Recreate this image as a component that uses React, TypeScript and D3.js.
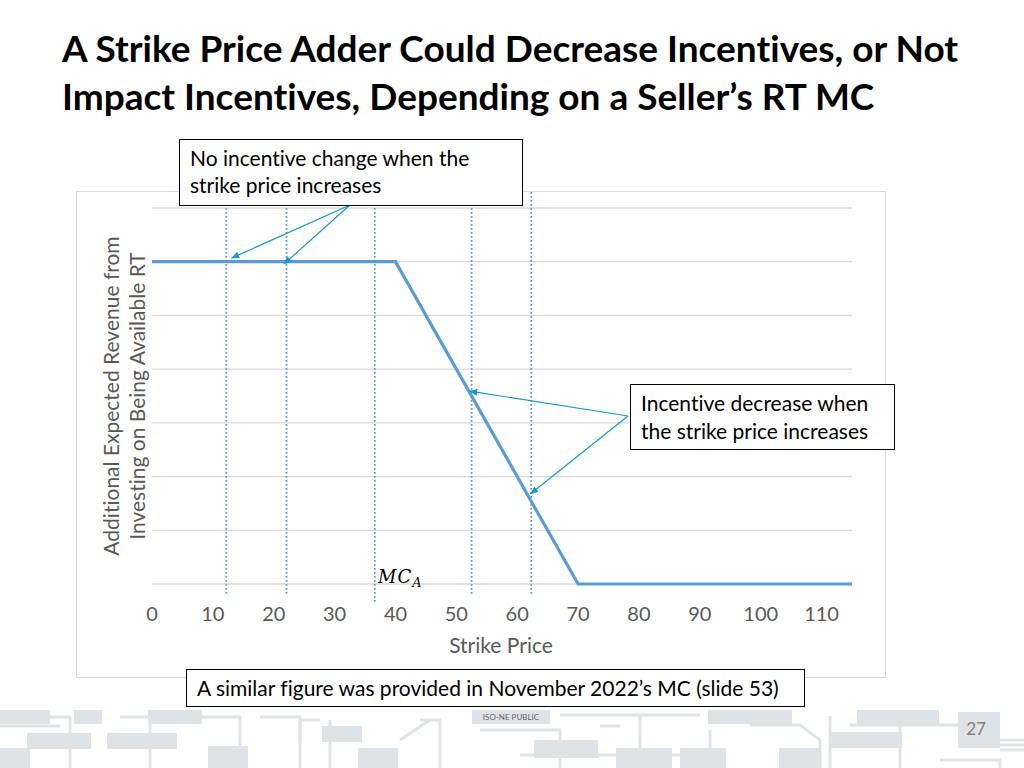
import React from "react";
import * as d3 from "d3";

const xTicks = [0, 10, 20, 30, 40, 50, 60, 70, 80, 90, 100, 110];
const yGridValues = [0, 1, 2, 3, 4, 5, 6, 7];
const curveX = [0, 40, 70, 115];
const curveY = [6, 6, 0, 0];
const dottedX = [12.2, 22.1, 36.6, 52.5, 62.3];
const mcIndex = 2;
const arrowsTopX = [13.1, 21.7];
const arrowsTopY = [6.07, 5.96];
const arrowsRightX = [52.2, 62.2];
const arrowsRightY = [3.59, 1.68];

const title1 = "A Strike Price Adder Could Decrease Incentives, or Not";
const title2 = "Impact Incentives, Depending on a Seller\u2019s RT MC";
const box1Lines = ["No incentive change when the", "strike price increases"];
const box2Lines = ["Incentive decrease when", "the strike price increases"];
const noteText = "A similar figure was provided in November 2022\u2019s MC (slide 53)";
const yLabel = ["Additional Expected Revenue from", "Investing on Being Available RT"];
const xLabel = "Strike Price";

const FONT = "Lato, 'Open Sans', sans-serif";
const BLUE = "#5b9bd5";
const ARROW = "#1a96d4";
const GRAY = "#595959";

export default function App() {
  const x = d3.scaleLinear().domain([0, 115]).range([152, 852]);
  const y = d3.scaleLinear().domain([0, 7]).range([584, 208]);
  const line = d3
    .line<number>()
    .x((d) => x(curveX[d]))
    .y((d) => y(curveY[d]));
  const idx = curveX.map((_, i) => i);

  const footerRects = [
    [0, 710, 50, 14], [74, 710, 28, 14], [148, 710, 54, 14], [27, 733, 64, 16], [107, 733, 70, 16],
    [0, 748, 30, 20], [208, 746, 40, 22], [322, 726, 40, 16], [358, 748, 40, 20], [472, 710, 78, 14],
    [534, 740, 64, 18], [616, 748, 56, 20], [680, 748, 46, 20], [708, 710, 84, 14], [830, 732, 72, 16],
    [779, 748, 42, 20], [857, 710, 82, 14], [958, 712, 42, 36]
  ];
  const footerLines = [
    "M0 726 H60 M50 717 H70 V768 M120 717 H150 V768 M200 717 H240 V768 M240 730 V768 M260 717 H300 V768",
    "M300 740 V720 H320 M420 720 H440 V768 M400 740 L430 720 M330 720 V768 M480 730 H560 V768 M560 715 H700",
    "M640 715 V768 M520 755 H700 M710 730 V768 M750 725 H800 L820 740 V768 M850 725 H960 M830 716 V768",
    "M900 716 V768 M960 740 L1024 740 M1000 745 H1024 M1000 750 H1024 M940 760 H1000 V768 M600 726 H620"
  ];

  return (
    <svg
      width={1024}
      height={768}
      style={{ position: "absolute", left: 0, top: 0, background: "#fff", fontVariantLigatures: "none" }}
    >
      <rect x={0} y={0} width={1024} height={768} fill="#fff" />
      {/* footer decoration */}
      <g>
        {footerLines.map((d, i) => (
          <path key={i} d={d} stroke="#dfe3e6" strokeWidth={3} fill="none" />
        ))}
        {footerRects.map((r, i) => (
          <rect key={i} x={r[0]} y={r[1]} width={r[2]} height={r[3]} fill="#dfe3e6" />
        ))}
        <text x={511} y={720} fontFamily={FONT} fontSize={8} fill="#666" textAnchor="middle">
          ISO-NE PUBLIC
        </text>
        <text x={976} y={735} fontFamily={FONT} fontSize={17} fill="#7f7f7f" textAnchor="middle">
          27
        </text>
      </g>

      {/* title */}
      <text x={62} y={62} fontFamily={FONT} fontWeight={700} fontSize={37} fill="#000">
        {title1}
      </text>
      <text x={62} y={110} fontFamily={FONT} fontWeight={700} fontSize={37} fill="#000">
        {title2}
      </text>

      {/* chart frame */}
      <rect x={76.5} y={191.5} width={809} height={486} fill="#fff" stroke="#d9d9d9" strokeWidth={1} />

      {/* gridlines */}
      {yGridValues.map((v) => (
        <line key={v} x1={x(0)} x2={x(115)} y1={y(v)} y2={y(v)} stroke="#d9d9d9" strokeWidth={1.3} />
      ))}

      {/* dotted verticals */}
      {dottedX.map((v, i) => (
        <line
          key={i}
          x1={x(v)}
          x2={x(v)}
          y1={192}
          y2={i === mcIndex ? 603 : 594}
          stroke={BLUE}
          strokeWidth={1.8}
          strokeDasharray="1.8 2.2"
        />
      ))}

      {/* main curve */}
      <path d={line(idx) || ""} stroke={BLUE} strokeWidth={3.2} fill="none" />

      {/* x tick labels */}
      {xTicks.map((t) => (
        <text key={t} x={x(t)} y={621} fontFamily={FONT} fontSize={20} fill={GRAY} textAnchor="middle">
          {t}
        </text>
      ))}
      <text x={501} y={653} fontFamily={FONT} fontSize={21} fill={GRAY} textAnchor="middle">
        {xLabel}
      </text>

      {/* y label */}
      <g transform="translate(119,396) rotate(-90)">
        <text x={0} y={0} fontFamily={FONT} fontSize={21} fill={GRAY} textAnchor="middle">
          {yLabel[0]}
        </text>
        <text x={0} y={26} fontFamily={FONT} fontSize={21} fill={GRAY} textAnchor="middle">
          {yLabel[1]}
        </text>
      </g>

      {/* MC_A label */}
      <text x={378} y={583} fontFamily="'DejaVu Serif', serif" fontStyle="italic" fontSize={18} fill="#000" letterSpacing={1}>
        MC
        <tspan fontSize={13} dy={4}>A</tspan>
      </text>

      {/* arrows */}
      <defs>
        <marker id="ah" viewBox="0 0 10 10" refX={9} refY={5} markerWidth={7} markerHeight={7} orient="auto">
          <path d="M0 1 L10 5 L0 9 z" fill={ARROW} />
        </marker>
      </defs>
      {arrowsTopX.map((v, i) => (
        <line
          key={"t" + i}
          x1={350}
          y1={205}
          x2={x(v)}
          y2={y(arrowsTopY[i])}
          stroke={ARROW}
          strokeWidth={1.2}
          markerEnd="url(#ah)"
        />
      ))}
      {arrowsRightX.map((v, i) => (
        <line
          key={"r" + i}
          x1={628}
          y1={416}
          x2={x(v)}
          y2={y(arrowsRightY[i])}
          stroke={ARROW}
          strokeWidth={1.2}
          markerEnd="url(#ah)"
        />
      ))}

      {/* annotation boxes */}
      <rect x={179.5} y={139.5} width={343} height={66} fill="#fff" stroke="#000" strokeWidth={1} />
      {box1Lines.map((s, i) => (
        <text key={i} x={190} y={166 + i * 27} fontFamily={FONT} fontSize={21} fill="#000">
          {s}
        </text>
      ))}
      <rect x={630.5} y={384.5} width={264} height={65} fill="#fff" stroke="#000" strokeWidth={1} />
      {box2Lines.map((s, i) => (
        <text key={i} x={641} y={411 + i * 28} fontFamily={FONT} fontSize={21} fill="#000">
          {s}
        </text>
      ))}
      <rect x={186.5} y={669.5} width={618} height={37} fill="#fff" stroke="#000" strokeWidth={1} />
      <text x={197} y={696} fontFamily={FONT} fontSize={21} fill="#000">
        {noteText}
      </text>
    </svg>
  );
}
